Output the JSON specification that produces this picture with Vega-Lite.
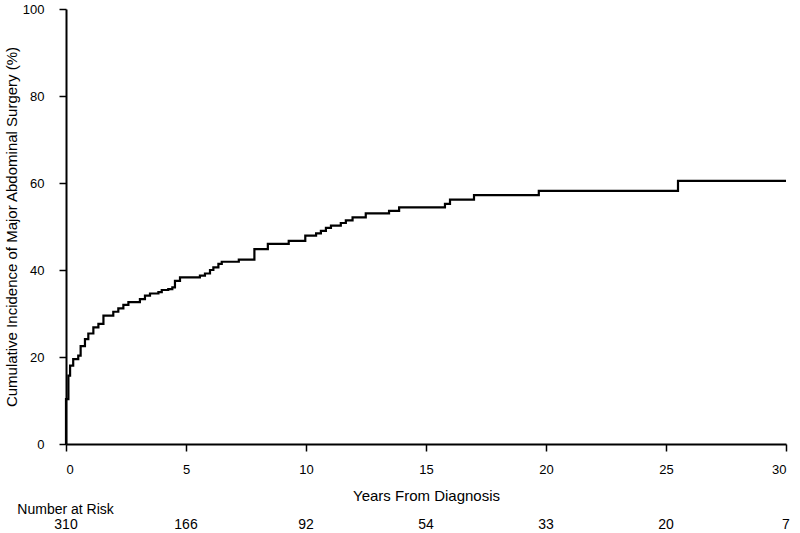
{
  "$schema": "https://vega.github.io/schema/vega-lite/v6.json",
  "padding": {"left": 4, "top": 3, "right": 5, "bottom": 0},
  "background": "white",
  "config": {
    "view": {"stroke": null},
    "font": "Liberation Sans",
    "axis": {"grid": false, "domainColor": "black", "domainWidth": 2, "tickColor": "black", "tickWidth": 1.5, "tickSize": 7, "labelColor": "black", "titleColor": "black", "labelFont": "Liberation Sans", "titleFont": "Liberation Sans", "labelFontSize": 13, "titleFontSize": 15, "titleFontWeight": "normal"}
  },
  "spacing": 0,
  "vconcat": [
    {
      "width": 720,
      "height": 435,
      "data": {"values": [
        {"t": 0, "v": 0}, {"t": 0, "v": 10.3}, {"t": 0.1, "v": 15.7}, {"t": 0.17, "v": 18.0},
        {"t": 0.3, "v": 19.5}, {"t": 0.51, "v": 20.3}, {"t": 0.61, "v": 22.5}, {"t": 0.79, "v": 24.1},
        {"t": 0.93, "v": 25.4}, {"t": 1.14, "v": 26.8}, {"t": 1.35, "v": 27.6}, {"t": 1.56, "v": 29.5},
        {"t": 1.97, "v": 30.4}, {"t": 2.18, "v": 31.2}, {"t": 2.39, "v": 32.0}, {"t": 2.6, "v": 32.6},
        {"t": 3.08, "v": 33.3}, {"t": 3.29, "v": 34.1}, {"t": 3.5, "v": 34.6}, {"t": 3.85, "v": 34.9},
        {"t": 3.99, "v": 35.4}, {"t": 4.26, "v": 35.6}, {"t": 4.43, "v": 36.0}, {"t": 4.54, "v": 37.5},
        {"t": 4.75, "v": 38.3}, {"t": 5.58, "v": 38.7}, {"t": 5.79, "v": 39.2}, {"t": 6.0, "v": 40.0},
        {"t": 6.14, "v": 40.6}, {"t": 6.35, "v": 41.4}, {"t": 6.49, "v": 41.9}, {"t": 7.2, "v": 42.4},
        {"t": 7.85, "v": 44.8}, {"t": 8.41, "v": 46.0}, {"t": 9.28, "v": 46.7}, {"t": 9.97, "v": 47.9},
        {"t": 10.42, "v": 48.4}, {"t": 10.62, "v": 49.0}, {"t": 10.83, "v": 49.7}, {"t": 11.04, "v": 50.2},
        {"t": 11.45, "v": 50.8}, {"t": 11.66, "v": 51.4}, {"t": 11.94, "v": 52.1}, {"t": 12.49, "v": 53.0},
        {"t": 13.46, "v": 53.6}, {"t": 13.88, "v": 54.4}, {"t": 15.79, "v": 55.2}, {"t": 16.0, "v": 56.2},
        {"t": 17.0, "v": 57.2}, {"t": 19.7, "v": 58.2}, {"t": 25.5, "v": 60.5}, {"t": 30, "v": 60.5}
      ]},
      "mark": {"type": "line", "interpolate": "step-after", "color": "black", "strokeWidth": 2.2},
      "encoding": {
        "x": {"field": "t", "type": "quantitative", "scale": {"domain": [0, 30], "nice": false},
              "axis": {"values": [0, 5, 10, 15, 20, 25, 30], "title": "Years From Diagnosis", "labelPadding": 12, "titlePadding": 12}},
        "y": {"field": "v", "type": "quantitative", "scale": {"domain": [0, 100], "nice": false},
              "axis": {"values": [0, 20, 40, 60, 80, 100], "title": "Cumulative Incidence of Major Abdominal Surgery (%)", "labelPadding": 15, "titlePadding": 3}}
      }
    },
    {
      "width": 720,
      "height": 16,
      "title": {"text": "Number at Risk", "anchor": "start", "dx": -37, "fontSize": 14, "fontWeight": "normal", "font": "Liberation Sans", "color": "black", "offset": 0},
      "data": {"values": [
        {"t": 0, "n": 310}, {"t": 5, "n": 166}, {"t": 10, "n": 92}, {"t": 15, "n": 54},
        {"t": 20, "n": 33}, {"t": 25, "n": 20}, {"t": 30, "n": 7}
      ]},
      "mark": {"type": "text", "fontSize": 14, "font": "Liberation Sans", "color": "black"},
      "encoding": {
        "x": {"field": "t", "type": "quantitative", "scale": {"domain": [0, 30], "nice": false}, "axis": null},
        "text": {"field": "n", "type": "quantitative"}
      }
    }
  ]
}
